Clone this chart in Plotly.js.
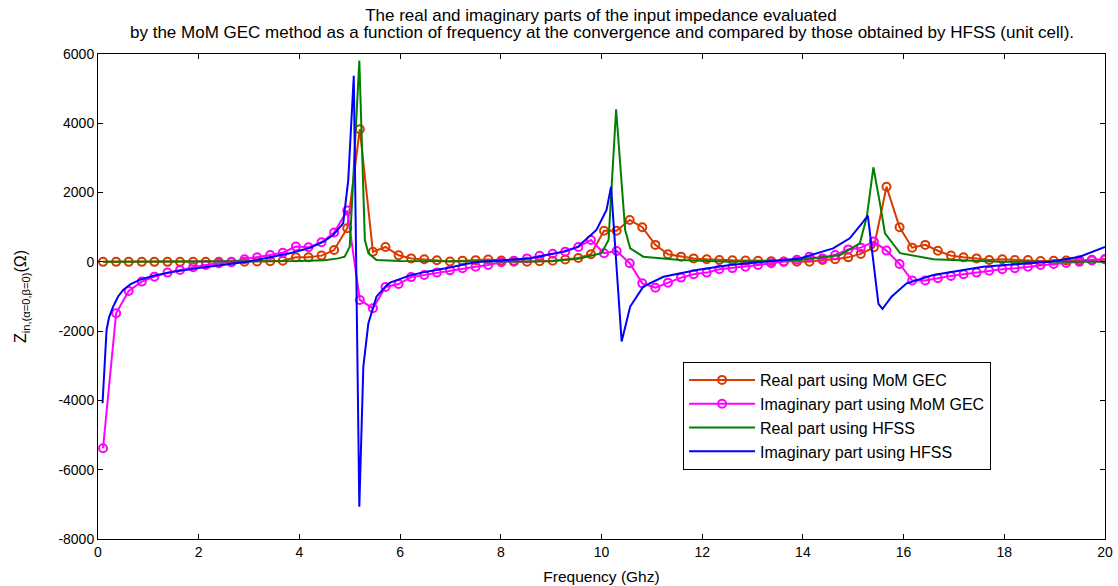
<!DOCTYPE html>
<html>
<head>
<meta charset="utf-8">
<script src="https://cdn.plot.ly/plotly-3.0.1.min.js"></script>
<style>html,body{margin:0;padding:0;background:#fff;}#chart{width:1118px;height:586px;}</style>
</head>
<body>
<div id="chart"></div>
<script>
// MoM GEC frequencies (GHz)
var momFreq = [0.10,0.36,0.61,0.87,1.12,1.38,1.63,1.89,2.14,2.40,2.65,2.91,3.16,3.42,3.67,3.93,4.18,4.44,4.69,4.95,
  5.20,5.46,5.71,5.97,6.22,6.48,6.73,6.99,7.24,7.50,7.75,8.01,8.26,8.52,8.77,9.03,9.28,9.54,9.79,10.05,
  10.30,10.56,10.81,11.07,11.32,11.58,11.83,12.09,12.34,12.60,12.86,13.11,13.37,13.62,13.88,14.13,14.39,14.64,14.90,15.15,
  15.41,15.66,15.92,16.17,16.43,16.68,16.94,17.19,17.45,17.70,17.96,18.21,18.47,18.72,18.98,19.23,19.49,19.74,20.00];
var momReal = [0,0,0,0,0,0,0,0,0,0,0,5,10,20,30,130,130,180,340,970,
  3830,290,430,190,100,75,45,10,35,50,70,40,5,5,20,30,70,110,220,900,
  900,1210,1000,490,220,150,100,75,55,45,40,30,20,10,5,5,55,75,130,230,
  420,2170,1000,410,490,320,180,130,100,55,75,55,55,25,30,40,50,60,70];
var momImag = [-5380,-1485,-840,-570,-427,-310,-234,-157,-90,-40,-12,75,130,200,265,440,420,565,845,1480,
  -1100,-1340,-725,-640,-440,-380,-310,-245,-185,-138,-90,-12,35,100,175,235,295,430,630,250,
  315,-40,-620,-745,-600,-455,-360,-310,-215,-180,-140,-90,-40,0,60,150,100,200,360,410,
  585,325,-60,-540,-540,-475,-405,-360,-310,-255,-215,-185,-140,-90,-60,-30,0,40,80];

// HFSS real part
var hfssRealFreq = [0.10,2.0,3.0,4.0,4.5,4.77,4.90,5.00,5.19,5.30,5.37,5.53,6.0,7.0,8.0,9.0,9.57,10.00,10.14,10.29,
  10.47,10.57,10.83,11.56,12.55,13.0,13.94,14.74,15.13,15.27,15.40,15.53,15.63,15.93,16.59,17.91,20.0];
var hfssReal = [0,5,10,25,45,100,150,440,5810,630,250,55,25,10,10,20,100,250,630,4405,
  920,390,150,55,5,20,55,200,537,1305,2730,1690,825,250,75,5,0];

// HFSS imaginary part
var hfssImagFreq = [0.09,0.13,0.17,0.22,0.30,0.40,0.50,0.65,0.83,1.10,1.50,2.00,2.50,3.00,3.15,3.50,3.81,4.20,4.48,4.67,
  4.87,4.97,5.08,5.19,5.27,5.37,5.45,5.53,5.73,5.80,6.20,6.50,6.99,7.30,7.59,8.00,8.25,8.58,8.91,9.24,
  9.54,9.57,9.90,10.10,10.19,10.40,10.57,10.83,11.23,11.89,12.55,13.30,13.94,14.60,14.93,15.20,15.29,15.50,15.58,15.76,
  16.06,16.59,17.58,18.91,19.50,20.00];
var hfssImag = [-4080,-2800,-1965,-1600,-1290,-1000,-810,-640,-520,-400,-283,-180,-90,10,55,150,250,400,585,775,
  1110,2360,5370,-7070,-3025,-1770,-1350,-1005,-680,-600,-390,-290,-165,-60,5,50,75,100,200,295,
  440,490,920,1500,2170,-2300,-1290,-715,-430,-234,-90,20,100,390,680,1160,1335,-1215,-1360,-1005,
  -620,-380,-140,5,150,430];

var seriesNames = ['Real part using MoM GEC','Imaginary part using MoM GEC','Real part using HFSS','Imaginary part using HFSS'];
var xTicks = [0,2,4,6,8,10,12,14,16,18,20];
var yTicks = [-8000,-6000,-4000,-2000,0,2000,4000,6000];
var titleLines = ['The real and imaginary parts of the input impedance evaluated',
  'by the MoM GEC method as a function of frequency at the convergence and compared by those obtained by HFSS (unit cell).'];

var FONT = 'Liberation Sans, Arial, Helvetica, sans-serif';

var traces = [
  {x: momFreq, y: momReal, name: seriesNames[0], mode: 'lines+markers', type: 'scatter',
   line: {color: '#d93a00', width: 2}, marker: {symbol: 'circle-open', size: 8, color: '#d93a00', line: {width: 2}}},
  {x: momFreq, y: momImag, name: seriesNames[1], mode: 'lines+markers', type: 'scatter',
   line: {color: '#ff00ff', width: 2}, marker: {symbol: 'circle-open', size: 8, color: '#ff00ff', line: {width: 2}}},
  {x: hfssRealFreq, y: hfssReal, name: seriesNames[2], mode: 'lines', type: 'scatter',
   line: {color: '#008000', width: 2}},
  {x: hfssImagFreq, y: hfssImag, name: seriesNames[3], mode: 'lines', type: 'scatter',
   line: {color: '#0000ff', width: 2}}
];

var layout = {
  width: 1118, height: 586,
  margin: {l: 98, r: 13, t: 54, b: 47},
  paper_bgcolor: '#fff', plot_bgcolor: '#fff',
  font: {family: FONT, size: 14, color: '#000'},
  title: {text: titleLines[0],
          font: {family: FONT, size: 17, color: '#000'}, x: 0.5375, xanchor: 'center', xref: 'container', y: 1 - 15/586, yref: 'container', yanchor: 'middle'},
  annotations: [{text: titleLines[1], xref: 'paper', yref: 'paper', x: 0.5, y: 1 + (54 - 33) / 485,
                 xanchor: 'center', yanchor: 'middle', showarrow: false, font: {family: FONT, size: 17, color: '#000'}}],
  showlegend: true,
  legend: {x: 0.581, y: 0.365, xanchor: 'left', yanchor: 'top', bgcolor: '#fff', bordercolor: '#000', borderwidth: 1,
           font: {family: FONT, size: 16, color: '#000'}, itemwidth: 66, tracegroupgap: 0},
  xaxis: {range: [0, 20], tickvals: xTicks, ticktext: xTicks.map(String), ticks: 'inside', ticklen: 5, tickcolor: '#000',
          showline: true, linecolor: '#000', linewidth: 1, mirror: 'ticks', showgrid: false, zeroline: false,
          title: {text: 'Frequency (Ghz)', font: {family: FONT, size: 15.5}, standoff: 12}, automargin: false},
  yaxis: {range: [-8000, 6000], tickvals: yTicks, ticktext: yTicks.map(String), ticks: 'inside', ticklen: 5, tickcolor: '#000',
          showline: true, linecolor: '#000', linewidth: 1, mirror: 'ticks', showgrid: false, zeroline: false,
          title: {text: 'Z<sub>in,(α=0,β=0)</sub>(Ω)', font: {family: FONT, size: 16}, standoff: 27}, automargin: false}
};

Plotly.newPlot('chart', traces, layout, {staticPlot: true, displayModeBar: false});
</script>
</body>
</html>
